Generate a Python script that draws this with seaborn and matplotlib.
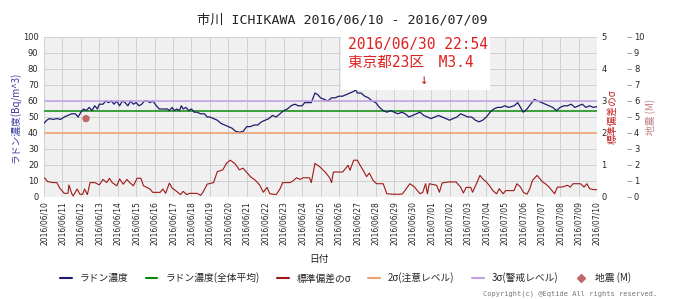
import numpy as np
import pandas as pd
import matplotlib
matplotlib.use("Agg")
import matplotlib.pyplot as plt
import matplotlib.dates as mdates
from matplotlib.lines import Line2D
from matplotlib.patches import Rectangle
import seaborn as sns

# ---------------- data ----------------
start_date = "2016-06-10"
end_date = "2016-07-10"

radon_days = [0.0, 0.15, 0.3, 0.5, 0.7, 0.9, 1.1, 1.3, 1.5, 1.7, 1.85, 2.0, 2.15, 2.3, 2.45, 2.6, 2.75, 2.9,
              3.0, 3.2, 3.35, 3.5, 3.65, 3.8, 3.95, 4.1, 4.25, 4.4, 4.55, 4.7, 4.85, 5.0, 5.15, 5.3, 5.45,
              5.6, 5.75, 5.9, 6.1, 6.25, 6.5, 6.7, 6.8, 6.95, 7.05, 7.2, 7.35, 7.45, 7.55, 7.7, 7.85, 8.0,
              8.15, 8.3, 8.5, 8.7, 8.85, 9.0, 9.2, 9.4, 9.6, 9.8, 10.0, 10.2, 10.4, 10.6, 10.8, 11.0, 11.2,
              11.4, 11.6, 11.8, 12.0, 12.2, 12.4, 12.6, 12.8, 13.0, 13.2, 13.4, 13.6, 13.8, 14.0, 14.15,
              14.3, 14.5, 14.7, 14.85, 15.0, 15.2, 15.4, 15.6, 15.8, 16.0, 16.2, 16.4, 16.6, 16.8, 16.9,
              17.0, 17.2, 17.4, 17.6, 17.8, 18.0, 18.2, 18.4, 18.6, 18.8, 19.0, 19.2, 19.4, 19.6, 19.8,
              20.0, 20.2, 20.4, 20.6, 20.8, 21.0, 21.2, 21.4, 21.6, 21.8, 22.0, 22.2, 22.4, 22.6, 22.8,
              23.0, 23.2, 23.4, 23.6, 23.8, 24.0, 24.2, 24.4, 24.6, 24.8, 25.0, 25.2, 25.5, 25.7, 25.85,
              26.0, 26.2, 26.4, 26.6, 26.8, 27.0, 27.2, 27.4, 27.6, 27.8, 28.0, 28.2, 28.4, 28.6, 28.8,
              29.0, 29.2, 29.4, 29.6, 29.8, 30.0]
radon_vals = [46, 48, 49, 48.5, 49, 48.5, 50, 51, 52, 52, 50, 53, 55, 54, 56, 54, 57, 55,
              58, 58, 60, 59, 60, 58, 60, 57, 60, 59, 57, 60, 58, 59, 57, 58, 60,
              60, 59, 60, 57, 55, 55, 55, 54, 56, 54, 55, 54, 57, 55, 56, 54, 55,
              53, 53, 52, 52, 50, 50, 49, 48, 46, 45, 44, 43, 41, 40.5, 41, 44, 44,
              45, 45, 47, 48, 49, 51, 50, 52, 54, 55, 57, 58, 57, 57, 59,
              59, 59, 65, 64, 62, 61, 60, 62, 62, 63, 63, 64, 65, 66, 67,
              65, 65, 63, 62, 60, 59, 56, 54, 53, 54, 53, 52, 53, 52, 50,
              51, 52, 53, 51, 50, 49, 50, 51, 50, 49, 48, 49, 50, 52, 51,
              50, 50, 48, 47, 48, 50, 53, 55, 56, 56, 57, 56, 57, 59, 56,
              53, 55, 58, 61, 60, 59, 58, 57, 56, 54, 56, 57, 57, 58, 56,
              57, 58, 56, 57, 56, 56.5]

radon_mean = 53.5

sigma_days = [0.0, 0.05, 0.2, 0.5, 0.7, 0.85, 1.1, 1.3, 1.35, 1.5, 1.58, 1.8, 1.95, 2.1, 2.2, 2.35, 2.5, 2.75,
              3.0, 3.2, 3.4, 3.55, 3.7, 3.95, 4.1, 4.3, 4.5, 4.65, 4.85, 5.05, 5.25, 5.4, 5.75, 5.9, 6.3,
              6.45, 6.6, 6.8, 6.95, 7.2, 7.4, 7.55, 7.75, 7.9, 8.3, 8.5, 8.65, 8.85, 9.2, 9.4, 9.7, 9.9,
              10.1, 10.35, 10.6, 10.8, 11.2, 11.45, 11.7, 11.9, 12.1, 12.25, 12.6, 12.8, 12.95, 13.35,
              13.5, 13.7, 13.9, 14.05, 14.4, 14.5, 14.7, 14.95, 15.25, 15.5, 15.6, 15.7, 16.2, 16.5,
              16.6, 16.8, 17.0, 17.15, 17.3, 17.5, 17.65, 17.85, 18.05, 18.4, 18.6, 19.0, 19.3, 19.45,
              19.85, 20.1, 20.4, 20.55, 20.7, 20.8, 20.9, 21.3, 21.45, 21.6, 21.95, 22.35, 22.6, 22.75,
              22.9, 23.15, 23.25, 23.5, 23.65, 23.8, 24.0, 24.15, 24.35, 24.55, 24.7, 24.9, 25.05, 25.5,
              25.65, 25.85, 26.0, 26.2, 26.35, 26.5, 26.75, 26.9, 27.05, 27.2, 27.4, 27.7, 27.85, 28.1,
              28.4, 28.55, 28.7, 29.1, 29.3, 29.45, 29.6, 29.8, 30.0]
sigma_vals = [0.60, 0.585, 0.48, 0.45, 0.45, 0.28, 0.115, 0.115, 0.375, 0.115, 0.03, 0.25, 0.085, 0.085,
              0.25, 0.075, 0.45, 0.45, 0.38, 0.55, 0.45, 0.585, 0.45, 0.35, 0.565, 0.40, 0.55, 0.45, 0.35,
              0.585, 0.585, 0.35, 0.25, 0.145, 0.145, 0.25, 0.115, 0.435, 0.28, 0.175, 0.075, 0.175, 0.075,
              0.115, 0.115, 0.05, 0.175, 0.40, 0.45, 0.79, 0.85, 1.05, 1.15, 1.05, 0.85, 0.90, 0.635, 0.53,
              0.375, 0.15, 0.30, 0.10, 0.075, 0.25, 0.45, 0.45, 0.50, 0.60, 0.55, 0.60, 0.60, 0.45, 1.05,
              0.95, 0.78, 0.60, 0.45, 0.78, 0.78, 0.99, 0.835, 1.15, 1.15, 0.99, 0.85, 0.635, 0.75, 0.52,
              0.415, 0.415, 0.10, 0.085, 0.085, 0.10, 0.415, 0.31, 0.10, 0.15, 0.415, 0.10, 0.415, 0.365,
              0.15, 0.44, 0.47, 0.47, 0.31, 0.125, 0.30, 0.30, 0.15, 0.47, 0.675, 0.57, 0.47, 0.365, 0.20,
              0.10, 0.26, 0.10, 0.20, 0.20, 0.415, 0.31, 0.15, 0.085, 0.25, 0.52, 0.675, 0.57, 0.47, 0.415,
              0.31, 0.10, 0.31, 0.31, 0.365, 0.31, 0.415, 0.415, 0.31, 0.415, 0.26, 0.23, 0.23]

sigma2_level = 2.0
sigma3_level = 3.0

quake_day = [2.28]
quake_mag = [4.9]

title_text = "市川 ICHIKAWA 2016/06/10 - 2016/07/09"
note_lines = ["2016/06/30 22:54", "東京都23区　M3.4"]
legend_labels = ["ラドン濃度", "ラドン濃度(全体平均)", "標準偏差のσ", "2σ(注意レベル)", "3σ(警戒レベル)", "地震 (M)"]

# ---------------- styling ----------------
sns.set_theme(style="whitegrid")
plt.rcParams['font.family'] = ['DejaVu Sans', 'Noto Sans CJK JP']
mono = ['DejaVu Sans Mono', 'Noto Sans CJK JP']
cjk = ['Noto Sans CJK JP', 'DejaVu Sans']

c_radon = "#1c1c6e"
c_mean = "#0a8a0a"
c_sigma = "#a01818"
c_2s = "#f0a070"
c_3s = "#c0a0e8"
c_quake = "#c06868"

t0 = pd.Timestamp(start_date)
radon_df = pd.DataFrame({"t": t0 + pd.to_timedelta(radon_days, unit="D"), "v": radon_vals})
sigma_df = pd.DataFrame({"t": t0 + pd.to_timedelta(sigma_days, unit="D"), "v": sigma_vals})
quake_df = pd.DataFrame({"t": t0 + pd.to_timedelta(quake_day, unit="D"), "m": quake_mag})

fig = plt.figure(figsize=(6.8, 2.99), dpi=100)
fig.patch.set_facecolor("white")
W, H = 680, 299
ax = fig.add_axes([44 / W, 1 - 197 / H, (597 - 44) / W, 160 / H])
ax.set_facecolor("#f0f0f0")

xmin, xmax = pd.Timestamp(start_date), pd.Timestamp(end_date)

sns.lineplot(data=radon_df, x="t", y="v", ax=ax, color=c_radon, lw=0.9, legend=False, zorder=4)
ax.axhline(radon_mean, color=c_mean, lw=1.1, zorder=3)
ax.set_xlim(xmin, xmax)
ax.set_ylim(0, 100)
ax.set_yticks(np.arange(0, 101, 10))
ax.xaxis.set_major_locator(mdates.DayLocator())
ax.xaxis.set_major_formatter(mdates.DateFormatter("%Y/%m/%d"))
ax.tick_params(axis="x", labelrotation=90, labelsize=5.5, length=0, pad=3)
ax.tick_params(axis="y", labelsize=6, length=0, pad=4)
ax.grid(True, color="#cfcfcf", lw=0.7)
for s in ax.spines.values():
    s.set_visible(False)
ax.set_xlabel("")
ax.set_ylabel("ラドン濃度(Bq/m^3)", color="#3a3aa0", fontsize=7, family=cjk)
ax.yaxis.set_label_coords(-0.04, 0.5)

# white annotation box
ax.add_patch(Rectangle(((341 - 44) / 553, (197 - 90) / 160), 149 / 553, 1 - (197 - 90) / 160,
                       transform=ax.transAxes, facecolor="white", edgecolor="none", zorder=5))

# sigma axis
ax2 = ax.twinx()
ax2.set_position(ax.get_position())
sns.lineplot(data=sigma_df, x="t", y="v", ax=ax2, color=c_sigma, lw=0.8, legend=False)
ax2.axhline(sigma2_level, color=c_2s, lw=1.1)
ax2.axhline(sigma3_level, color=c_3s, lw=1.1)
ax2.set_ylim(0, 5)
ax2.set_xlim(xmin, xmax)
ax2.set_yticks(range(0, 6))
ax2.grid(False)
ax2.tick_params(axis="y", labelsize=6, length=0, pad=3)
for s in ax2.spines.values():
    s.set_visible(False)
ax2.set_xlabel("")
ax2.set_ylabel("標準偏差のσ", color="#c02020", fontsize=7, family=cjk, rotation=90)
ax2.yaxis.set_label_coords(1.019, 0.5)

# earthquake axis
ax3 = ax.twinx()
ax3.set_position(ax.get_position())
ax3.spines["right"].set_position(("outward", 21.6))
sns.scatterplot(data=quake_df, x="t", y="m", ax=ax3, color=c_quake, s=28, edgecolor="none", legend=False)
ax3.set_ylim(0, 10)
ax3.set_xlim(xmin, xmax)
ax3.set_yticks(range(0, 11))
ax3.grid(False)
ax3.tick_params(axis="y", labelsize=6, length=3, width=0.6, color="#888888", pad=2)
for k, s in ax3.spines.items():
    s.set_visible(False)
ax3.set_xlabel("")
ax3.set_ylabel("地震 (M)", color="#c08080", fontsize=7, family=cjk, rotation=90)
ax3.yaxis.set_label_coords(1.087, 0.5)

# texts
fig.text(342 / W, 1 - 20 / H, title_text, ha="center", va="center", fontsize=9.5, family=mono, color="#222222")
fig.text(348 / W, 1 - 44 / H, note_lines[0], ha="left", va="center", fontsize=10.5, family=mono, color="#e02020")
fig.text(348 / W, 1 - 62 / H, note_lines[1], ha="left", va="center", fontsize=10.5, family=mono, color="#e02020")
fig.text(423 / W, 1 - 80 / H, "↓", ha="center", va="center", fontsize=10, family=mono, color="#c02020")
fig.text(319 / W, 1 - 259 / H, "日付", ha="center", va="center", fontsize=7, family=cjk, color="#222222")
fig.text(657 / W, 1 - 294 / H, "Copyright(c) @Eqtide All rights reserved.", ha="right", va="center",
         fontsize=5, family=mono, color="#777777")

handles = [
    Line2D([], [], color=c_radon, lw=1.5),
    Line2D([], [], color=c_mean, lw=1.5),
    Line2D([], [], color=c_sigma, lw=1.5),
    Line2D([], [], color=c_2s, lw=1.5),
    Line2D([], [], color=c_3s, lw=1.5),
    Line2D([], [], color=c_quake, lw=0, marker="D", markersize=4),
]
fig.legend(handles, legend_labels, loc="center left", bbox_to_anchor=(60 / W, 1 - 278 / H), ncol=6,
           frameon=False, prop={"family": cjk, "size": 7}, handlelength=1.2, handletextpad=0.8,
           columnspacing=1.8, borderaxespad=0, borderpad=0)

fig.savefig("out.png", dpi=100, facecolor="white")
